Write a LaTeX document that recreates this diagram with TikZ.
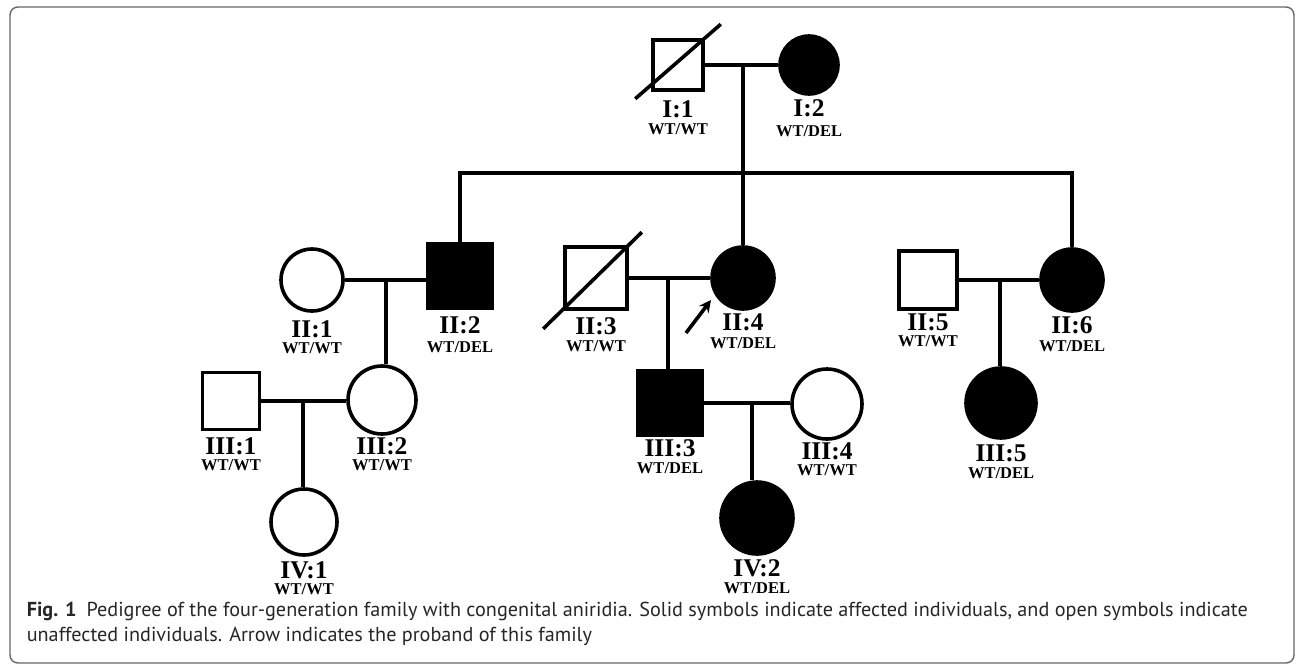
\documentclass[tikz,border=0pt]{standalone}
\usepackage{fontspec}
\setmainfont{Liberation Serif}
\newfontfamily\capfont{PT Sans}
\usetikzlibrary{arrows.meta}

\begin{document}
\begin{tikzpicture}[x=1pt,y=-1pt,
  line width=3.6pt,
  male/.style={draw, rectangle, minimum size=#1, inner sep=0pt},
  female/.style={draw, circle, minimum size=#1, inner sep=0pt},
  aff/.style={fill=black},
  idlab/.style={font=\fontsize{25.5}{25.5}\selectfont\bfseries, inner sep=0pt},
  genolab/.style={font=\fontsize{16.5}{16.5}\selectfont\bfseries, inner sep=0pt},
  captext/.style={font=\capfont\fontsize{20.2}{20.2}\selectfont, inner sep=0pt,
    anchor=base west, text=black!85},
  framebox/.style={draw=black!60, line width=1.4pt, rounded corners=8pt}
]
\useasboundingbox (0,0) rectangle (1296,665);
\draw[framebox] (10,7) rectangle (1294,663);

% ---------- generation I ----------
\node[male=50pt] (i1) at (678,65) {};
\node[female=58pt, aff] (i2) at (809,65) {};
\draw ([shift={(-16,7)}]i1.south west) -- ([shift={(16,-14)}]i1.north east);
\draw (i1.east) -- (i2.west);
\coordinate (m1) at (743,65);
\coordinate (sib) at (743,173);
\node[idlab] (li1) at (678,109) {I:1};
\node[genolab] (gi1) at (678,129) {WT/WT};
\node[idlab] (li2) at (809,108) {I:2};
\node[genolab] (gi2) at (809,131) {WT/DEL};

% ---------- generation II ----------
\node[female=62pt] (ii1) at (312,280) {};
\node[male=64pt, aff] (ii2) at (460,276) {};
\node[male=62pt] (ii3) at (596,278) {};
\node[female=62pt, aff] (ii4) at (743,278) {};
\node[male=58pt] (ii5) at (928,280) {};
\node[female=62pt, aff] (ii6) at (1072,280) {};
\draw ([shift={(-20,18)}]ii3.south west) -- ([shift={(13,-13)}]ii3.north east);

% sibship of generation II
\draw (m1) -- (sib);
\draw (ii2.north) -- (ii2.north |- sib) -- (ii6.north |- sib) -- (ii6.north);
\draw (sib) -- (ii4.north);

% couples of generation II
\draw (ii1.east) -- (ii1.east -| ii2.west);
\coordinate (m2) at (386,280);
\draw (ii3.east) -- (ii4.west);
\coordinate (m3) at (668,278);
\draw (ii5.east) -- (ii6.west);
\coordinate (m4) at (1000,280);

% proband arrow
\coordinate (pbtail) at (686,333);
\coordinate (pbhead) at (711,300);
\draw[-{Stealth[length=12pt,width=12pt]}, line width=3.6pt] (pbtail) -- (pbhead);

\node[idlab] (lii1) at (312,329) {II:1};
\node[genolab] (gii1) at (312,348) {WT/WT};
\node[idlab] (lii2) at (460,325) {II:2};
\node[genolab] (gii2) at (460,347) {WT/DEL};
\node[idlab] (lii3) at (596,326) {II:3};
\node[genolab] (gii3) at (596,346) {WT/WT};
\node[idlab] (lii4) at (743,322) {II:4};
\node[genolab] (gii4) at (743,343) {WT/DEL};
\node[idlab] (lii5) at (928,322) {II:5};
\node[genolab] (gii5) at (928,341) {WT/WT};
\node[idlab] (lii6) at (1072,325) {II:6};
\node[genolab] (gii6) at (1072,346) {WT/DEL};

% ---------- generation III ----------
\node[male=57pt] (iii1) at (231,401) {};
\node[female=68pt] (iii2) at (382,400) {};
\node[male=64pt, aff] (iii3) at (670,403) {};
\node[female=70pt] (iii4) at (827,404) {};
\node[female=70pt, aff] (iii5) at (1001,403) {};

\draw (m2) -- (m2 |- iii2.north);
\draw (m3) -- (m3 |- iii3.north);
\draw (m4) -- (m4 |- iii5.north);

\draw (iii1.east) -- (iii1.east -| iii2.west);
\coordinate (m5) at (303,401);
\draw (iii3.east) -- (iii3.east -| iii4.west);
\coordinate (m6) at (752,403);

\node[idlab] (liii1) at (231,446) {III:1};
\node[genolab] (giii1) at (231,465) {WT/WT};
\node[idlab] (liii2) at (382,446) {III:2};
\node[genolab] (giii2) at (382,465) {WT/WT};
\node[idlab] (liii3) at (670,448) {III:3};
\node[genolab] (giii3) at (670,468) {WT/DEL};
\node[idlab] (liii4) at (827,451) {III:4};
\node[genolab] (giii4) at (827,470) {WT/WT};
\node[idlab] (liii5) at (1001,453) {III:5};
\node[genolab] (giii5) at (1001,473) {WT/DEL};

% ---------- generation IV ----------
\node[female=66pt] (iv1) at (304,522) {};
\node[female=72pt, aff] (iv2) at (757,518) {};
\draw (m5) -- (m5 |- iv1.north);
\draw (m6) -- (m6 |- iv2.north);

\node[idlab] (liv1) at (304,570) {IV:1};
\node[genolab] (giv1) at (304,589) {WT/WT};
\node[idlab] (liv2) at (757,568) {IV:2};
\node[genolab] (giv2) at (757,588) {WT/DEL};

% ---------- caption ----------
\node[captext] (cap1) at (25,616) {\textbf{Fig. 1}\hspace{10pt}Pedigree of the four-generation family with congenital aniridia. Solid symbols indicate affected individuals, and open symbols indicate};
\node[captext] (cap2) at (25,641) {unaffected individuals. Arrow indicates the proband of this family};
\end{tikzpicture}
\end{document}
